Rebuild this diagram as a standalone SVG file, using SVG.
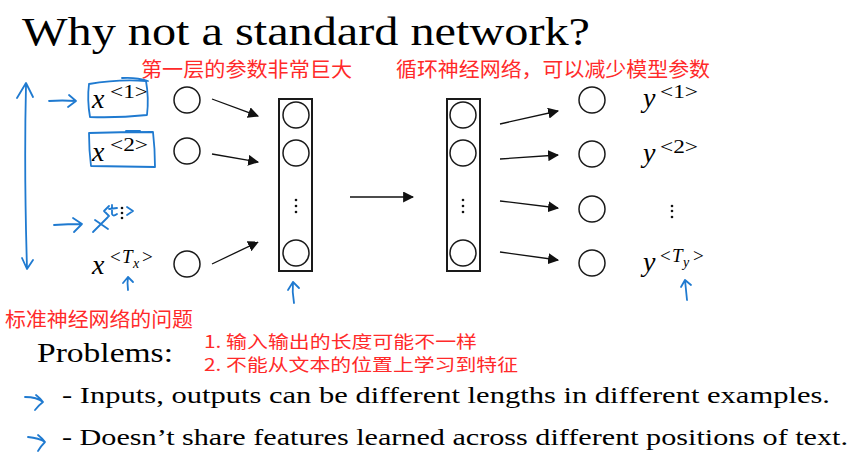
<svg xmlns="http://www.w3.org/2000/svg" width="858" height="467" viewBox="0 0 858 467">
<defs>
<style>
.serif{font-family:'Liberation Serif','Times New Roman','DejaVu Serif',serif;fill:#000}
.it{font-style:italic}
.cn{font-family:'Noto Sans CJK SC','Noto Sans',sans-serif;fill:#ff2a2a}
.node{fill:#fff;stroke:#1a1a1a;stroke-width:1.5}
.box{fill:#fff;stroke:#1a1a1a;stroke-width:2}
.conn{stroke:#111;stroke-width:1.3;fill:none}
.blue{stroke:#1f7ad0;stroke-width:1.8;fill:none;stroke-linecap:round;stroke-linejoin:round}
.dot{fill:#111}
</style>
<marker id="ah" viewBox="0 0 10 10" refX="9" refY="5" markerWidth="11" markerHeight="11" markerUnits="userSpaceOnUse" orient="auto">
<path d="M0,0 L10,5 L0,10 Z" fill="#111"/>
</marker>
</defs>
<rect width="858" height="467" fill="#fff"/>

<text class="serif" x="22" y="45" font-size="40" textLength="568" lengthAdjust="spacingAndGlyphs">Why not a standard network?</text>
<text class="cn" x="141" y="77" font-size="20" textLength="211" lengthAdjust="spacingAndGlyphs">第一层的参数非常巨大</text>
<text class="cn" x="396" y="77" font-size="20" textLength="314" lengthAdjust="spacingAndGlyphs">循环神经网络，可以减少模型参数</text>

<g id="x1">
<text class="serif it" x="92" y="108" font-size="28">x</text>
<text class="serif" x="110" y="98" font-size="19" textLength="38" lengthAdjust="spacingAndGlyphs">&lt;1&gt;</text>
</g>
<g id="x2">
<text class="serif it" x="92" y="161" font-size="28">x</text>
<text class="serif" x="110" y="151" font-size="19" textLength="38" lengthAdjust="spacingAndGlyphs">&lt;2&gt;</text>
</g>
<g id="xt">
<path class="blue" d="M93,232 L108,217 M95,220 L108,229"/>
<path class="blue" d="M109,206 L104,211 L109,216 M112,205 L112,214 Q113,217 117,214 M109,209 L117,208 M127,207 L133,211 L127,215"/>
<circle class="dot" cx="122" cy="208" r="1.3"/>
<circle class="dot" cx="122" cy="213" r="1.3"/>
<circle class="dot" cx="122" cy="218" r="1.3"/>
</g>
<g id="xTx">
<text class="serif it" x="92" y="274" font-size="28">x</text>
<text class="serif" x="110" y="263" font-size="19">&lt;</text>
<text class="serif it" x="122" y="263" font-size="19">T</text>
<text class="serif it" x="133" y="268" font-size="14">x</text>
<text class="serif" x="142" y="263" font-size="19">&gt;</text>
</g>

<g id="in1"><circle class="node" cx="187" cy="100" r="13"/></g>
<g id="in2"><circle class="node" cx="187" cy="151" r="13"/></g>
<g id="in3"><circle class="node" cx="187" cy="264" r="13"/></g>

<g id="layer1">
<rect class="box" x="279" y="99" width="33" height="172"/>
<circle class="node" cx="296" cy="115" r="13"/>
<circle class="node" cx="296" cy="153" r="13"/>
<circle class="node" cx="296" cy="253" r="13"/>
<circle class="dot" cx="296" cy="200" r="1.3"/>
<circle class="dot" cx="296" cy="206" r="1.3"/>
<circle class="dot" cx="296" cy="212" r="1.3"/>
</g>

<g id="layer2">
<rect class="box" x="447" y="99" width="33" height="172"/>
<circle class="node" cx="463" cy="115" r="13"/>
<circle class="node" cx="463" cy="153" r="13"/>
<circle class="node" cx="463" cy="253" r="13"/>
<circle class="dot" cx="463" cy="200" r="1.3"/>
<circle class="dot" cx="463" cy="206" r="1.3"/>
<circle class="dot" cx="463" cy="212" r="1.3"/>
</g>

<g id="out1"><circle class="node" cx="592" cy="100" r="13"/></g>
<g id="out2"><circle class="node" cx="592" cy="154" r="13"/></g>
<g id="out3"><circle class="node" cx="592" cy="209" r="13"/></g>
<g id="out4"><circle class="node" cx="592" cy="263" r="13"/></g>

<g id="y1">
<text class="serif it" x="643" y="107" font-size="28">y</text>
<text class="serif" x="660" y="98" font-size="19" textLength="38" lengthAdjust="spacingAndGlyphs">&lt;1&gt;</text>
</g>
<g id="y2">
<text class="serif it" x="643" y="162" font-size="28">y</text>
<text class="serif" x="660" y="153" font-size="19" textLength="38" lengthAdjust="spacingAndGlyphs">&lt;2&gt;</text>
</g>
<g id="ydots">
<circle class="dot" cx="672" cy="206" r="1.3"/>
<circle class="dot" cx="672" cy="211" r="1.3"/>
<circle class="dot" cx="672" cy="217" r="1.3"/>
</g>
<g id="yTy">
<text class="serif it" x="643" y="271" font-size="28">y</text>
<text class="serif" x="660" y="262" font-size="19">&lt;</text>
<text class="serif it" x="672" y="262" font-size="19">T</text>
<text class="serif it" x="683" y="267" font-size="14">y</text>
<text class="serif" x="693" y="262" font-size="19">&gt;</text>
</g>

<g id="connectors">
<line class="conn" x1="212" y1="99" x2="258" y2="116" marker-end="url(#ah)"/>
<line class="conn" x1="212" y1="154" x2="258" y2="162" marker-end="url(#ah)"/>
<line class="conn" x1="212" y1="264" x2="258" y2="242" marker-end="url(#ah)"/>
<line class="conn" x1="350" y1="197" x2="413" y2="197" marker-end="url(#ah)"/>
<line class="conn" x1="500" y1="124" x2="558" y2="111" marker-end="url(#ah)"/>
<line class="conn" x1="500" y1="159" x2="558" y2="155" marker-end="url(#ah)"/>
<line class="conn" x1="500" y1="201" x2="558" y2="208" marker-end="url(#ah)"/>
<line class="conn" x1="500" y1="252" x2="558" y2="260" marker-end="url(#ah)"/>
</g>

<g id="annotations">
<path class="blue" d="M26,85 Q24,170 27,268 M17,98 L26,83 L33,97 M22,258 L27,269 L33,260"/>
<path class="blue" d="M49,101 Q62,100 76,101 M69,95 L76,101 L68,107"/>
<path class="blue" d="M54,225 Q68,224 82,224 M73,218 L82,224 L74,232"/>
<path class="blue" d="M89,84 Q87,100 90,117 Q118,118 147,115 Q149,98 146,81 Q118,79 89,84 M122,78 Q136,77 148,81"/>
<path class="blue" d="M89,133 Q89,150 91,166 L155,167 Q155,149 153,132 Q120,132 89,133 M126,131 L140,131"/>
<path class="blue" d="M128,290 Q127,283 128,277 M123,283 L128,277 L133,282"/>
<path class="blue" d="M294,303 Q292,292 293,282 M288,290 L293,282 L299,288"/>
<path class="blue" d="M687,300 Q686,290 685,280 M681,287 L685,280 L691,285"/>
<path class="blue" d="M25,397 Q37,397 43,402 M36,395 Q41,399 43,402 Q39,405 35,410"/>
<path class="blue" d="M28,437 Q39,438 45,442 M38,435 Q43,439 45,442 Q41,446 38,451"/>
</g>

<text class="cn" x="5" y="327" font-size="20" textLength="188" lengthAdjust="spacingAndGlyphs">标准神经网络的问题</text>
<text class="serif" x="37" y="362" font-size="27" textLength="136" lengthAdjust="spacingAndGlyphs">Problems:</text>
<text class="cn" x="204" y="348" font-size="17" textLength="273" lengthAdjust="spacingAndGlyphs">1. 输入输出的长度可能不一样</text>
<text class="cn" x="204" y="371" font-size="17" textLength="314" lengthAdjust="spacingAndGlyphs">2. 不能从文本的位置上学习到特征</text>
<text class="serif" x="62" y="403" font-size="23" textLength="768" lengthAdjust="spacingAndGlyphs">- Inputs, outputs can be different lengths in different examples.</text>
<text class="serif" x="62" y="445" font-size="23" textLength="786" lengthAdjust="spacingAndGlyphs">- Doesn’t share features learned across different positions of text.</text>
</svg>
